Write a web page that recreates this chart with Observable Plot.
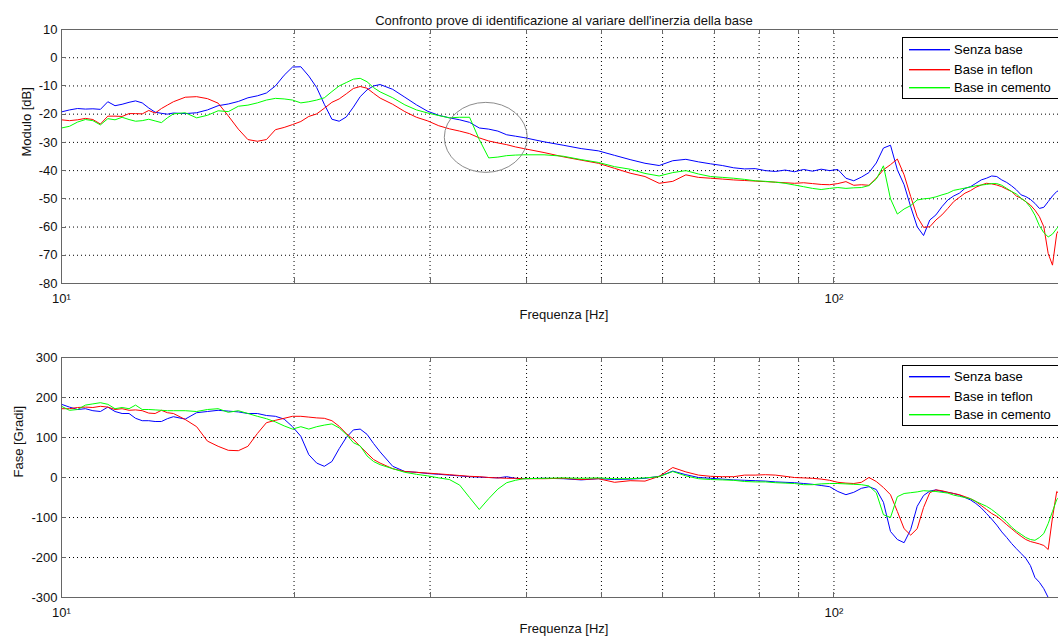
<!DOCTYPE html>
<html><head><meta charset="utf-8">
<script src="https://cdn.jsdelivr.net/npm/d3@7"></script>
<script src="https://cdn.jsdelivr.net/npm/@observablehq/plot@0.6"></script>
<style>
html,body{margin:0;padding:0;background:#fff;overflow:hidden;width:1058px;height:643px;}
#wrap{position:relative;width:1066px;height:643px;font-family:"Liberation Sans",Arial,sans-serif;}
#top,#bot{position:absolute;left:0;}
#top{top:0}#bot{top:330px}
.legend{position:absolute;z-index:5;}
</style>
</head><body>
<div id="wrap"><div id="top"></div><div id="bot"></div></div>
<script>
// ---- data ----
const freq = [10,10.24,10.49,10.74,10.98,11.23,11.48,11.73,11.98,12.23,12.47,12.72,12.97,13.22,13.47,13.71,
13.96,14.46,14.96,15.45,15.95,16.44,16.94,17.43,17.93,18.42,18.92,19.42,19.91,20.41,20.90,21.40,21.89,22.39,22.88,23.37,23.87,24.36,24.86,25.35,25.85,
26.84,27.83,28.81,29.80,30.79,31.78,32.77,33.75,34.74,35.73,36.72,37.70,38.69,39.68,
42.14,44.61,47.07,49.54,52.00,54.46,56.93,59.39,61.85,64.31,66.77,69.23,71.69,74.15,76.61,79.07,81.52,83.98,86.44,88.89,91.35,93.81,96.26,98.72,
101.17,103.63,106.08,108.53,110.99,113.44,115.89,118.35,120.80,123.25,125.70,128.16,130.61,133.06,135.51,137.96,140.41,142.86,145.31,147.76,150.21,152.66,155.11,157.56,160.01,162.46,164.90,167.35,169.80,172.25,174.70,177.14,179.59,182.04,184.48,186.93,189.38,191.82,194.27,196.72];

const magBlue = [-19.2,-18.5,-18.0,-18.2,-18.1,-18.3,-15.6,-17.0,-16.5,-15.8,-15.3,-16.0,-17.8,-19.3,-19.7,-20.0,
-19.6,-19.8,-19.5,-18.5,-17.0,-16.4,-15.5,-14.2,-13.5,-12.5,-10.0,-6.2,-3.3,-3.2,-6.5,-10.6,-16.5,-21.8,-22.5,-21.0,-17.5,-13.8,-11.4,-10.0,-9.5,
-11.2,-14.0,-16.7,-19.0,-20.4,-21.3,-22.0,-22.9,-24.9,-25.3,-26.0,-27.3,-27.8,-28.3,
-29.8,-31.0,-32.2,-33.0,-34.6,-36.1,-37.4,-38.2,-36.5,-36.0,-36.9,-37.6,-38.2,-39.0,-39.4,-39.3,-40.0,-40.3,-39.8,-40.4,-39.6,-40.2,-39.5,-40.0,
-39.6,-42.7,-43.6,-42.3,-40.7,-37.3,-32.0,-31.0,-39.7,-45.0,-52.8,-59.9,-63.0,-57.5,-55.7,-52.8,-50.4,-49.0,-48.0,-46.3,-45.7,-44.5,-43.3,-42.7,-41.9,-42.1,-43.3,-44.2,-45.4,-46.8,-48.6,-49.2,-50.2,-51.6,-53.4,-53.0,-51.0,-49.0,-47.4,-46.8];

const magRed = [-22.0,-22.3,-22.0,-21.5,-21.9,-23.5,-20.7,-20.7,-20.8,-19.8,-19.8,-19.9,-18.7,-19.6,-18.0,-16.8,
-15.6,-14.0,-13.8,-14.5,-16.1,-20.6,-25.3,-29.0,-29.6,-29.0,-25.5,-24.7,-23.7,-22.6,-20.8,-19.9,-17.9,-15.8,-14.6,-12.8,-10.9,-10.2,-10.8,-12.6,-14.3,
-16.5,-19.1,-21.1,-22.4,-24.1,-25.2,-26.0,-26.9,-28.4,-29.5,-30.2,-30.8,-31.6,-32.2,
-33.6,-35.1,-36.3,-37.4,-39.2,-40.9,-42.1,-44.5,-43.8,-41.5,-42.4,-42.7,-43.0,-43.3,-43.5,-43.7,-43.9,-44.1,-44.3,-44.5,-44.3,-44.6,-44.9,-45.0,
-44.6,-43.9,-45.2,-45.0,-45.2,-42.7,-39.7,-37.9,-35.9,-41.5,-49.2,-56.3,-60.1,-59.9,-57.5,-55.7,-53.4,-51.0,-49.5,-48.0,-47.1,-45.9,-45.1,-44.5,-44.7,-45.1,-45.7,-46.6,-47.4,-49.0,-49.8,-51.0,-52.2,-54.0,-56.3,-59.9,-69.4,-73.5,-62.3,-59.9];

const magGreen = [-24.9,-24.3,-22.8,-21.9,-22.3,-23.8,-21.6,-22.0,-21.1,-21.9,-22.5,-22.3,-21.8,-22.4,-23.0,-21.3,
-19.9,-19.5,-21.3,-20.4,-18.8,-19.1,-17.2,-16.8,-16.0,-15.0,-14.4,-14.6,-15.0,-16.0,-15.6,-15.0,-14.2,-12.0,-10.0,-8.8,-7.6,-7.3,-8.5,-10.6,-12.1,
-14.2,-16.7,-18.5,-19.6,-20.5,-21.3,-21.1,-21.1,-29.0,-35.5,-35.2,-34.7,-34.5,-34.4,
-34.4,-34.9,-36.1,-37.1,-38.6,-39.5,-41.0,-41.9,-40.7,-40.0,-41.2,-42.1,-42.4,-42.7,-43.1,-43.6,-43.8,-44.1,-44.5,-45.1,-45.7,-46.3,-46.7,-46.3,
-46.0,-46.3,-46.1,-46.0,-45.3,-43.0,-38.3,-50.0,-55.4,-53.6,-52.4,-50.4,-50.0,-49.8,-49.3,-48.6,-48.0,-47.0,-46.6,-46.2,-45.8,-45.4,-45.1,-44.9,-44.6,-44.6,-45.2,-46.3,-47.4,-48.3,-49.8,-51.0,-53.0,-55.8,-59.5,-62.0,-63.5,-62.5,-60.5,-58.7];

const phaseBlue = [183,176,170,172,167,165,176,165,160,160,148,142,142,140,140,147,
152,146,162,165,168,166,164,160,160,155,153,146,127,103,57,36,28,40,72,100,119,121,108,85,64,
28,15,13,10,8,6,4,2,1,0,-1,2,-2,-3,
-2,-3,-6,-3,-5,-4,-2,3,16,7,0,-2,-4,-6,-7,-8,-9,-11,-12,-13,-15,-17,-20,-23,
-35,-43,-37,-27,-23,-30,-62,-135,-155,-163,-130,-72,-45,-34,-31,-35,-37,-40,-44,-50,-56,-65,-76,-90,-104,-119,-136,-150,-165,-178,-190,-202,-220,-250,-262,-278,-300,-320,-335,-345];

const phaseRed = [172,172,175,176,175,178,176,170,172,168,169,167,161,160,168,162,
160,145,127,91,78,68,67,78,110,137,143,148,153,153,151,149,148,142,128,110,95,78,61,45,36,
22,15,13,11,9,7,5,3,2,0,-1,-2,-2,-3,
-3,-2,-5,-3,-12,-8,-9,3,25,14,6,3,2,2,6,6,7,6,3,0,-1,-2,-4,-7,
-12,-14,-15,-12,0,-10,-25,-43,-85,-128,-144,-128,-75,-38,-31,-33,-37,-40,-43,-48,-53,-60,-70,-80,-90,-97,-107,-118,-128,-138,-147,-155,-160,-163,-166,-170,-180,-100,-35,-45];

const phaseGreen = [178,168,170,181,184,187,183,172,175,172,181,170,170,169,168,167,
167,167,165,170,172,163,167,160,153,147,139,129,121,127,121,127,131,134,124,108,87,79,54,40,32,
22,13,8,4,-1,-5,-19,-50,-80,-53,-29,-13,-7,-3,
-2,-1,-2,-1,-3,-3,-1,2,15,4,-3,-5,-6,-7,-10,-11,-11,-13,-14,-15,-18,-18,-16,-15,
-15,-16,-17,-18,-21,-38,-93,-100,-48,-40,-38,-36,-33,-34,-35,-37,-39,-44,-47,-50,-53,-60,-66,-72,-80,-90,-100,-111,-124,-134,-142,-150,-155,-157,-150,-140,-115,-85,-55,-45];

const magTicks = [-80,-70,-60,-50,-40,-30,-20,-10,0,10];
const phaseTicks = [-300,-200,-100,0,100,200,300];
const xGrid = [20,30,40,50,60,70,80,90,100,200];
const xTickMarks = [10,20,30,40,50,60,70,80,90,100,200];
const xLabelTicks = [10,100];
const xLabelText = ["10\u00B9","10\u00B2"];
const seriesNames = ["Senza base","Base in teflon","Base in cemento"];
const seriesColors = ["#0000ff","#ff0000","#00ff00"];
const circleFreq = [31.35,40.14];
const circleDb = [-16.0,-40.8];
const titleText = "Confronto prove di identificazione al variare dell'inerzia della base";
const xLabel = "Frequenza [Hz]";
const magLabel = "Modulo [dB]";
const phaseLabel = "Fase [Gradi]";

// ---- drawing ----
const frameColor = "#666";
const textColor = "#111";

function innerTicks(xt, yt) {
  return (index, scales, values, dims) => {
    const g = d3.create("svg:g").attr("stroke", frameColor).attr("stroke-width", 1).attr("fill", "none");
    const b = dims.height - dims.marginBottom, t = dims.marginTop, l = dims.marginLeft;
    for (const v of xt) {
      const x = Math.round(scales.x(v)) + 0.5;
      g.append("line").attr("x1", x).attr("x2", x).attr("y1", b).attr("y2", b - 5);
      g.append("line").attr("x1", x).attr("x2", x).attr("y1", t).attr("y2", t + 5);
    }
    for (const v of yt) {
      const y = Math.round(scales.y(v)) + 0.5;
      g.append("line").attr("x1", l).attr("x2", l + 5).attr("y1", y).attr("y2", y);
    }
    return g.node();
  };
}

function ellipseMark(fx, fy) {
  return (index, scales) => {
    const x0 = scales.x(fx[0]), x1 = scales.x(fx[1]);
    const y0 = scales.y(fy[0]), y1 = scales.y(fy[1]);
    return d3.create("svg:ellipse")
      .attr("cx", (x0 + x1) / 2).attr("cy", (y0 + y1) / 2)
      .attr("rx", Math.abs(x1 - x0) / 2).attr("ry", Math.abs(y1 - y0) / 2)
      .attr("fill", "none").attr("stroke", "#8c8c8c").attr("stroke-width", 1).node();
  };
}

function panel({series, yDomain, yTicks, yLabel, yLabelDx, title, height, marginTop, marginBottom, extra = []}) {
  const marks = [
    Plot.ruleY(yTicks, {stroke: "#000", strokeDasharray: "1,3", strokeWidth: 1}),
    Plot.ruleX(xGrid, {stroke: "#000", strokeDasharray: "1,3", strokeWidth: 1}),
    innerTicks(xTickMarks, yTicks),
    ...series.map((vals, i) => Plot.lineY(vals, {x: freq, stroke: seriesColors[i], strokeWidth: 1, clip: true})),
    ...extra,
    Plot.frame({stroke: frameColor}),
    Plot.axisY({ticks: yTicks, tickSize: 0, tickPadding: 4, label: null, tickFormat: d => String(d)}),
    Plot.axisX({ticks: xLabelTicks, tickSize: 0, tickPadding: 10, label: null, tickFormat: d => xLabelText[xLabelTicks.indexOf(d)]}),
    Plot.text([xLabel], {frameAnchor: "bottom", dy: 35, text: d => d}),
    Plot.text([yLabel], {frameAnchor: "left", rotate: -90, dx: yLabelDx, text: d => d})
  ];
  if (title) marks.push(Plot.text([title], {frameAnchor: "top", dy: -13.5, text: d => d}));
  return Plot.plot({
    width: 1066, height, marginLeft: 61, marginRight: 0, marginTop, marginBottom,
    style: {fontFamily: "'Liberation Sans', Arial, sans-serif", fontSize: "13px", color: textColor, background: "transparent", maxWidth: "none", overflow: "visible"},
    x: {type: "log", domain: [10, 200]},
    y: {domain: yDomain},
    marks
  });
}

const topChart = panel({
  series: [magBlue, magRed, magGreen], yDomain: [-80, 10], yTicks: magTicks,
  yLabel: magLabel, yLabelDx: -35, title: titleText, height: 330, marginTop: 29, marginBottom: 47,
  extra: [ellipseMark(circleFreq, circleDb)]
});
const botChart = panel({
  series: [phaseBlue, phaseRed, phaseGreen], yDomain: [-300, 300], yTicks: phaseTicks,
  yLabel: phaseLabel, yLabelDx: -43, title: null, height: 313, marginTop: 27, marginBottom: 46
});
document.getElementById("top").appendChild(topChart);
document.getElementById("bot").appendChild(botChart);

function addLegend(top, height, rowOffsets) {
  const w = 157;
  const svg = d3.select("#wrap").append("svg")
    .attr("class", "legend")
    .attr("width", w).attr("height", height)
    .style("left", "902px").style("top", top + "px");
  svg.append("rect").attr("x", 0.5).attr("y", 0.5).attr("width", w - 1).attr("height", height - 1)
    .attr("fill", "#fff").attr("stroke", "#000").attr("stroke-width", 1);
  seriesNames.forEach((name, i) => {
    const y = rowOffsets[i];
    svg.append("rect").attr("x", 7).attr("y", y).attr("width", 41).attr("height", 1.4)
      .attr("fill", seriesColors[i]);
    svg.append("text").attr("x", 52).attr("y", y + 0.5).attr("dy", "0.35em")
      .attr("fill", "#000").attr("font-family", "'Liberation Sans', Arial, sans-serif").attr("font-size", 13)
      .text(name);
  });
}
addLegend(37, 62, [12, 32, 50]);
addLegend(365, 61, [11, 31, 49]);
</script>
</body></html>
